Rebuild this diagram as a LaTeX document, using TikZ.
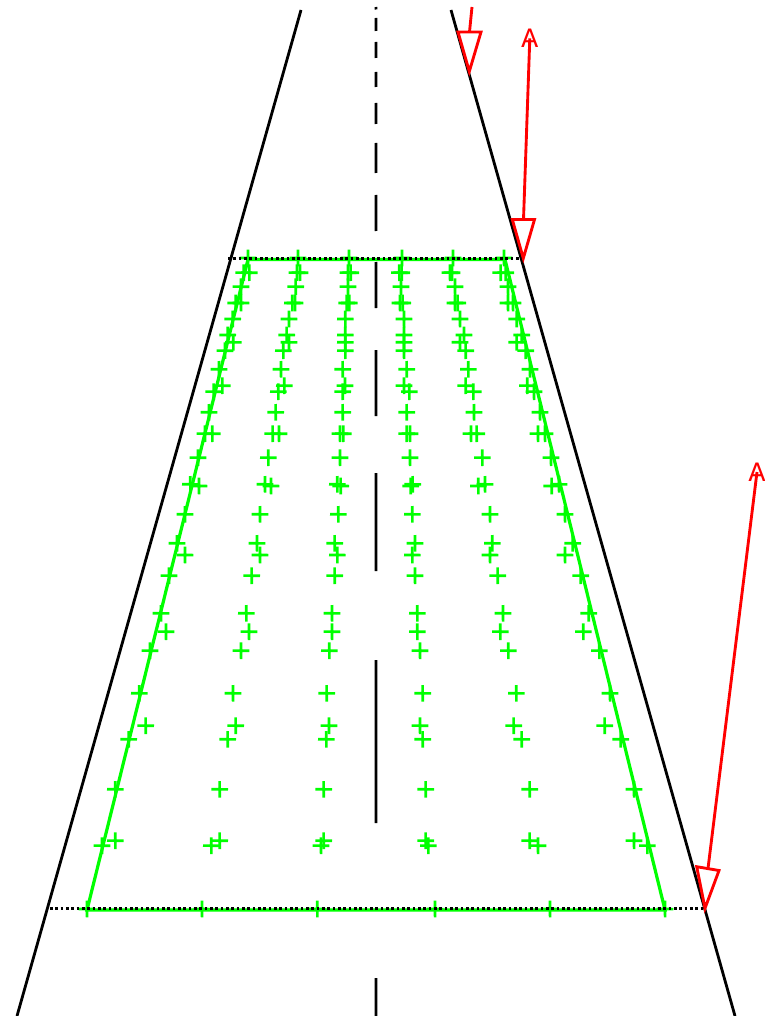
\documentclass[tikz,border=0pt]{standalone}
\usepackage{fontspec}
\setmainfont{DejaVu Sans}
\definecolor{gridgreen}{RGB}{0,255,0}
\definecolor{markred}{RGB}{255,0,0}
\tikzset{
  edgeline/.style={black,line width=2.1pt},
  centredash/.style={black,line width=2.05pt},
  refdots/.style={black,line width=2.1pt,dash pattern=on 2.1pt off 1.9pt},
  greenline/.style={gridgreen,line width=2.4pt},
  plusmark/.style={gridgreen,line width=1.95pt},
  redline/.style={markred,line width=2.15pt},
  redlabel/.style={markred,inner sep=0pt,font=\fontsize{19}{20}\selectfont}
}
\begin{document}
\begin{tikzpicture}[x=0.75pt,y=-0.75pt]
\useasboundingbox (0,0) rectangle (764,1016);
\clip (0,0) rectangle (764,1016);
% named points
\coordinate (LT) at (301,10);
\coordinate (LB) at (17,1016);
\coordinate (RT) at (451,10);
\coordinate (RB) at (735,1016);
% runway edges
\draw[edgeline] (LT) -- (LB);
\draw[edgeline] (RT) -- (RB);
% centre line
\foreach \a/\b in {7/9.5,18/31,42/58,72/87,103/124,143/173,195/231,262/308,350/416,473/571,660/823,978/1016}
  \draw[centredash] (375.96,\a) -- (376.04,\b);
% green trapezoid
\draw[greenline] (87,910) -- (665,910) -- (505,259.5) -- (248,259.5) -- cycle;
% grid of plus marks
\foreach \y/\xs in {
  258/{248,298,349,402,453,504},
  272.7/{243.7,249.3,297,300,348,350.7,399.3,401.7,450,452,500.7,505.7},
  286.7/{241,295.7,348,401,455,508},
  303/{235.7,241,292.3,295,346.7,349.3,400,402.7,455,457.7,508,513},
  319/{232.7,289,345.3,404,460,516.7},
  335/{227.7,286.7,345.3,404,464,521.7},
  342.3/{233.3,289,345.3,404,460,516.7},
  350.7/{225,283.3,345.3,404,465.7,525.7},
  369.3/{219,281,342.7,406.7,468.3,530},
  385.7/{222.3,284.3,345,404,465.7,527.3},
  391.7/{213.7,278.3,342.7,409.3,473.3,534},
  412.3/{209,275.7,342.7,406.7,474,540},
  433.7/{205,212.3,272.7,279,340,343.3,406.7,410,471,476.7,538,545},
  457.7/{198,268.3,340,410,482.3,551},
  484.3/{190.3,265,337.3,412.7,485,559},
  486/{199,271,340.7,410.7,478.3,551.7},
  514.3/{185,260,338.3,412.3,490,565},
  543.3/{177,257,334.7,415,492.3,572.7},
  555/{185,260,337.3,412.3,490,565},
  575.7/{169,251.7,334.7,415,497.7,580.7},
  613.3/{161,246.3,332,417.3,503,588.7},
  631.7/{166,249,332,417.3,500.3,583.3},
  650.7/{150,241,329.3,420,508.3,599.3},
  693.3/{139.3,233,326.7,422.7,516.3,610},
  725.7/{145.7,235.7,329,420,513.7,604.7},
  739.3/{128.7,227.7,326.3,422.7,521.7,620.7},
  789.3/{115.3,219.7,323.7,425.7,529.7,634},
  840.7/{115.3,219.7,323.7,425.7,529.7,634},
  845.7/{102,211.3,321,428.3,538,647.3},
  909/{87,202,317.3,435,550,665}}{
  \foreach \x in \xs
    \draw[plusmark] (\x-8.3,\y-0.05) -- (\x+8.3,\y+0.05) (\x-0.05,\y-8.3) -- (\x+0.05,\y+8.3);
}
% reference dotted lines
\draw[refdots] (228,258.2) -- (522,258.2);
\draw[refdots] (50,908.7) -- (705,908.7);
% red markers
\coordinate (a1L) at (458,32);
\coordinate (a1R) at (481,32);
\coordinate (a1T) at (469.3,71.5);
\coordinate (a1B) at (469.5,32);
\coordinate (a1S) at (472,7);
\draw[redline] (a1S) -- (a1B);
\draw[redline,line join=miter] (a1L) -- (a1R) -- (a1T) -- cycle;
\coordinate (a2L) at (512.3,219.5);
\coordinate (a2R) at (534.5,219.5);
\coordinate (a2T) at (523.3,258.3);
\coordinate (a2B) at (523.5,219.5);
\node[redlabel] (lab2) at (529.8,38.3) {A};
\draw[redline] (lab2.center) -- (a2B);
\draw[redline,line join=miter] (a2L) -- (a2R) -- (a2T) -- cycle;
\coordinate (a3L) at (696.7,866.7);
\coordinate (a3R) at (719,870.5);
\coordinate (a3T) at (705,908.3);
\coordinate (a3B) at (708,868.5);
\node[redlabel] (lab3) at (757,472) {A};
\draw[redline] (lab3.center) -- (a3B);
\draw[redline,line join=miter] (a3L) -- (a3R) -- (a3T) -- cycle;
\end{tikzpicture}
\end{document}
